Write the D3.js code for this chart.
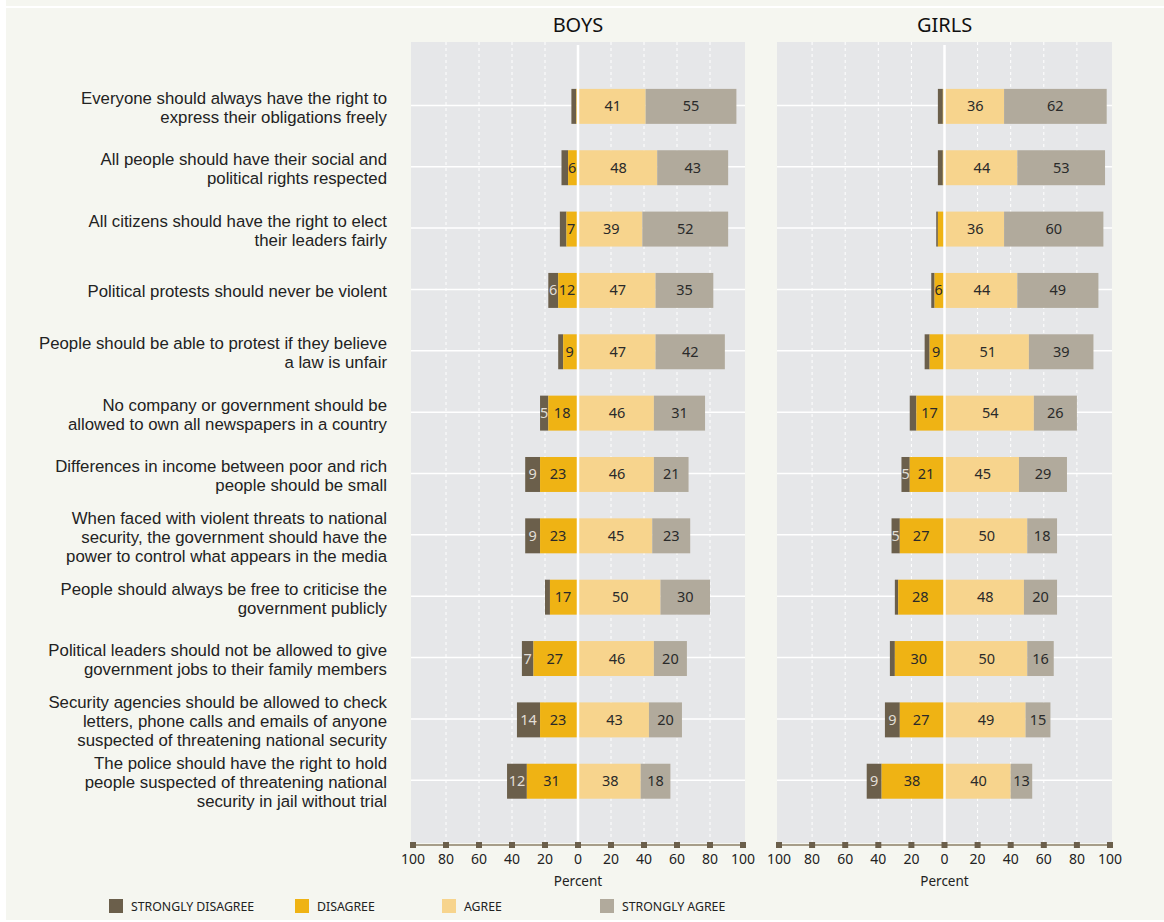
<!DOCTYPE html>
<html lang="en">
<head>
    <meta charset="utf-8">
    <script src="https://d3js.org/d3.v7.min.js"></script>
    <style>
        body { margin: 0; background: #ffffff; }
        svg { display: block; font-family: "Noto Sans", sans-serif; }
    </style>
</head>
<body>
    <svg id="chart"></svg>

    <script type="text/javascript" charset="utf-8">
        // statements, one entry per row, split in display lines
        const statements = [
            ["Everyone should always have the right to", "express their obligations freely"],
            ["All people should have their social and", "political rights respected"],
            ["All citizens should have the right to elect", "their leaders fairly"],
            ["Political protests should never be violent"],
            ["People should be able to protest if they believe", "a law is unfair"],
            ["No company or government should be", "allowed to own all newspapers in a country"],
            ["Differences in income between poor and rich", "people should be small"],
            ["When faced with violent threats to national", "security, the government should have the", "power to control what appears in the media"],
            ["People should always be free to criticise the", "government publicly"],
            ["Political leaders should not be allowed to give", "government jobs to their family members"],
            ["Security agencies should be allowed to check", "letters, phone calls and emails of anyone", "suspected of threatening national security"],
            ["The police should have the right to hold", "people suspected of threatening national", "security in jail without trial"]
        ];

        const boysStronglyDisagree = [3, 4, 4, 6, 3, 5, 9, 9, 3, 7, 14, 12];
        const boysDisagree         = [1, 6, 7, 12, 9, 18, 23, 23, 17, 27, 23, 31];
        const boysAgree            = [41, 48, 39, 47, 47, 46, 46, 45, 50, 46, 43, 38];
        const boysStronglyAgree    = [55, 43, 52, 35, 42, 31, 21, 23, 30, 20, 20, 18];

        const girlsStronglyDisagree = [3, 3, 1, 2, 3, 4, 5, 5, 2, 3, 9, 9];
        const girlsDisagree         = [1, 1, 4, 6, 9, 17, 21, 27, 28, 30, 27, 38];
        const girlsAgree            = [36, 44, 36, 44, 51, 54, 45, 50, 48, 50, 49, 40];
        const girlsStronglyAgree    = [62, 53, 60, 49, 39, 26, 29, 18, 20, 16, 15, 13];

        const tickValues = [-100, -80, -60, -40, -20, 0, 20, 40, 60, 80, 100];
        const legendLabels = ["STRONGLY DISAGREE", "DISAGREE", "AGREE", "STRONGLY AGREE"];
        const colors = ["#6b5f4b", "#efb314", "#f7d48d", "#b1aa9c"];

        const W = 1164, H = 922;
        const svg = d3.select("#chart").attr("width", W).attr("height", H);

        // page background with white top line
        svg.append("rect").attr("width", W).attr("height", H).attr("fill", "#ffffff");
        svg.append("rect").attr("x", 6).attr("y", 0).attr("width", W - 6).attr("height", 920).attr("fill", "#f5f6f0");
        svg.append("rect").attr("x", 6).attr("y", 6).attr("width", W - 6).attr("height", 2).attr("fill", "#ffffff");

        const y = d3.scaleBand()
            .domain(d3.range(statements.length))
            .range([75.7, 811.9])
            .paddingInner(0.43)
            .paddingOuter(0.215);

        const panelTop = 42, panelBottom = 843, axisY = 845;

        // row labels
        const labels = svg.append("g");
        statements.forEach((lines, i) => {
            const cy = y(i) + y.bandwidth() / 2;
            const lh = 19;
            const t = labels.append("text")
                .attr("text-anchor", "end")
                .attr("font-family", "'Liberation Sans', Arial, sans-serif")
                .attr("font-size", 16.8)
                .attr("fill", "#222");
            lines.forEach((ln, k) => {
                t.append("tspan")
                    .attr("x", 387)
                    .attr("y", cy + (k - (lines.length - 1) / 2) * lh + 7)
                    .text(ln);
            });
        });

        function drawPanel(title, range, sd, dis, ag, sa) {
            const x = d3.scaleLinear().domain([-100, 100]).range(range);
            const g = svg.append("g");

            g.append("rect")
                .attr("x", x(-100) - 2).attr("y", panelTop)
                .attr("width", x(100) - x(-100) + 4).attr("height", panelBottom - panelTop)
                .attr("fill", "#e6e7e9");

            g.append("text")
                .attr("x", x(0)).attr("y", 32)
                .attr("text-anchor", "middle")
                .attr("font-size", 20)
                .attr("fill", "#111")
                .text(title);

            // dashed vertical grid
            g.selectAll(".vgrid")
                .data(tickValues.filter(d => Math.abs(d) !== 100 && d !== 0))
                .enter().append("line")
                .attr("x1", d => x(d)).attr("x2", d => x(d))
                .attr("y1", panelTop).attr("y2", panelBottom)
                .attr("stroke", "#ffffff").attr("stroke-width", 1)
                .attr("stroke-dasharray", "3,3");

            // horizontal grid at row centres
            g.selectAll(".hgrid")
                .data(statements)
                .enter().append("line")
                .attr("x1", x(-100) - 2).attr("x2", x(100) + 2)
                .attr("y1", (d, i) => y(i) + y.bandwidth() / 2 - 1)
                .attr("y2", (d, i) => y(i) + y.bandwidth() / 2 - 1)
                .attr("stroke", "#ffffff").attr("stroke-width", 1.5);

            const rows = statements.map((s, i) => {
                const segs = [
                    { x0: -(sd[i] + dis[i]), x1: -dis[i], v: sd[i], k: 0 },
                    { x0: -dis[i], x1: 0, v: dis[i], k: 1 },
                    { x0: 0, x1: ag[i], v: ag[i], k: 2 },
                    { x0: ag[i], x1: ag[i] + sa[i], v: sa[i], k: 3 }
                ];
                return segs.map(d => Object.assign({ row: i }, d));
            }).flat();

            g.selectAll(".seg")
                .data(rows)
                .enter().append("rect")
                .attr("x", d => x(d.x0))
                .attr("width", d => x(d.x1) - x(d.x0))
                .attr("y", d => y(d.row))
                .attr("height", y.bandwidth())
                .attr("fill", d => colors[d.k]);

            g.selectAll(".val")
                .data(rows.filter(d => d.v >= 5))
                .enter().append("text")
                .attr("x", d => (x(d.x0) + x(d.x1)) / 2 + (d.k === 1 ? -1 : (d.k === 2 ? 1 : 0)))
                .attr("y", d => y(d.row) + y.bandwidth() / 2 + 5)
                .attr("text-anchor", "middle")
                .attr("font-size", 14.5)
                .attr("fill", d => d.k === 0 ? "#e2ded6" : "#2a2a2a")
                .text(d => d.v);

            // white zero line
            g.append("line")
                .attr("x1", x(0)).attr("x2", x(0))
                .attr("y1", panelTop + 3).attr("y2", panelBottom)
                .attr("stroke", "#ffffff").attr("stroke-width", 2.5);

            // axis
            const axis = g.append("g").attr("transform", `translate(0,${axisY})`);
            axis.append("line")
                .attr("x1", x(-100)).attr("x2", x(100))
                .attr("stroke", "#a69d89").attr("stroke-width", 2);
            axis.selectAll(".tk")
                .data(tickValues)
                .enter().append("rect")
                .attr("x", d => x(d) - 3).attr("y", -3)
                .attr("width", 6).attr("height", 6)
                .attr("fill", "#6b5f4b");
            axis.selectAll(".tl")
                .data(tickValues)
                .enter().append("text")
                .attr("x", d => x(d)).attr("y", 19)
                .attr("text-anchor", "middle")
                .attr("font-size", 14)
                .attr("fill", "#222")
                .text(d => Math.abs(d));
            axis.append("text")
                .attr("x", x(0)).attr("y", 41)
                .attr("text-anchor", "middle")
                .attr("font-size", 13.5)
                .attr("fill", "#222")
                .text("Percent");
        }

        drawPanel("BOYS", [413, 743], boysStronglyDisagree, boysDisagree, boysAgree, boysStronglyAgree);
        drawPanel("GIRLS", [779, 1110], girlsStronglyDisagree, girlsDisagree, girlsAgree, girlsStronglyAgree);

        // legend
        const legendX = [109, 295, 442, 600];
        const legend = svg.append("g");
        legendLabels.forEach((lab, i) => {
            legend.append("rect")
                .attr("x", legendX[i]).attr("y", 899)
                .attr("width", 14).attr("height", 14)
                .attr("fill", colors[i]);
            legend.append("text")
                .attr("x", legendX[i] + 22).attr("y", 911)
                .attr("font-size", 12.3)
                .attr("fill", "#222")
                .text(lab);
        });
    </script>
</body>
</html>
